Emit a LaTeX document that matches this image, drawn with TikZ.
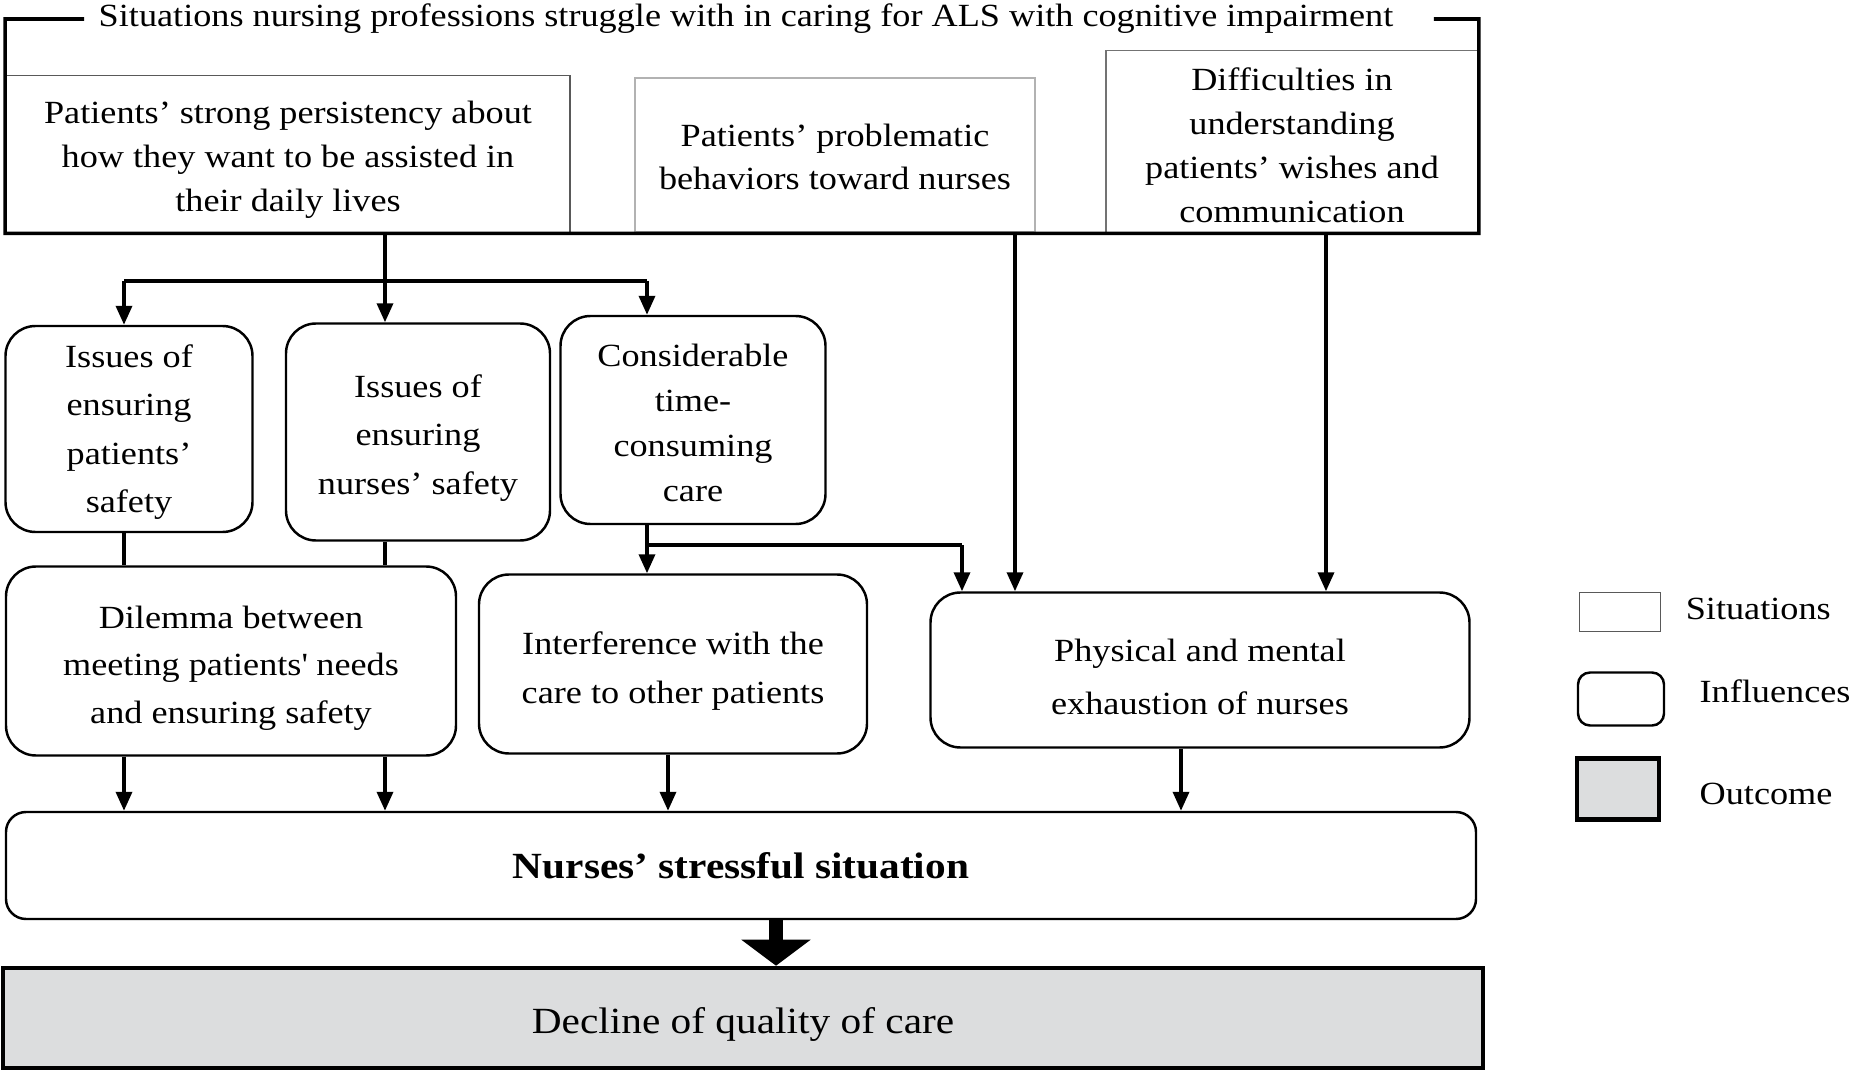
\documentclass[tikz,border=0pt]{standalone}
\usepackage{fontspec}
\setmainfont{Liberation Serif}[FakeStretch=1.12]
\usepackage{tikz}
\usetikzlibrary{positioning,arrows.meta,calc}
\tikzset{>=latex}
\definecolor{mygray}{RGB}{220,221,222}
\newcommand{\lead}[1]{\fontsize{9.2pt}{#1}\selectfont}
\newcommand{\drop}[1]{\rule{0pt}{#1}}
\tikzstyle{situation}=[draw=black!65,line width=0.5pt,align=center,inner sep=0pt]
\tikzstyle{influence}=[draw,line width=0.7pt,rounded corners=3mm,align=center,inner sep=0pt]
\tikzstyle{outcome}=[draw,fill=mygray,line width=1.3pt,align=center,inner sep=0pt]
\tikzstyle{connect}=[line width=1pt,black]
\tikzstyle{connect arrow}=[-{Triangle[length=1.9mm,width=1.6mm]},line width=1pt,black]

\begin{document}
\begin{tikzpicture}[font=\lead{12.5pt}]
\useasboundingbox (0,0) rectangle (18.5,-10.74);

% Situations
\node [inner sep=0pt] (T) at (7.46,-0.19) {Situations nursing professions struggle with in caring for ALS with cognitive impairment};
\node [situation, minimum width=5.64cm, minimum height=1.57cm] (S1) at (2.88,-1.54)
{\drop{9.9pt}Patients’ strong persistency about\\how they want to be assisted in\\their daily lives};
\node [situation, draw=black!30, minimum width=4.0cm, minimum height=1.545cm] (S2) at (8.35,-1.55)
{\drop{7.5pt}Patients’ problematic\\behaviors toward nurses};
\node [situation, draw=black!55, minimum width=3.72cm, minimum height=1.82cm] (S3) at (12.92,-1.416)
{\drop{8.5pt}Difficulties in\\understanding\\patients’ wishes and\\communication};

\draw [connect] ([xshift=-1.4mm]T.west) -- (T.west -| S1.west) -- (S1.south west)
  -- (S3.south east) -- (T.east -| S3.east) -- ([xshift=4mm]T.east);

% Influences
\node [influence, minimum width=2.47cm, minimum height=2.06cm, font=\lead{13.7pt}] (I1) at (1.29,-4.29)
{\drop{8.2pt}Issues of\\ensuring\\patients’\\safety};
\node [influence, minimum width=2.64cm, minimum height=2.17cm, font=\lead{13.7pt}] (I2) at (4.18,-4.32)
{\drop{9.9pt}Issues of\\ensuring\\nurses’ safety};
\node [influence, minimum width=2.65cm, minimum height=2.08cm, font=\lead{12.8pt}] (I3) at (6.93,-4.20)
{\drop{7.9pt}Considerable\\time-\\consuming\\care};
\node [influence, minimum width=4.50cm, minimum height=1.89cm, font=\lead{13.6pt}] (I4) at (2.31,-6.61)
{\drop{10.5pt}Dilemma between\\meeting patients\textquotesingle\ needs\\and ensuring safety};
\node [influence, minimum width=3.88cm, minimum height=1.79cm, font=\lead{13.7pt}] (I5) at (6.73,-6.64)
{\drop{10.5pt}Interference with the\\care to other patients};
\node [influence, minimum width=5.39cm, minimum height=1.55cm, font=\lead{15pt}] (I6) at (12.0,-6.70)
{\drop{10.5pt}Physical and mental\\exhaustion of nurses};

% Outcome
\node [influence, rounded corners=2mm, minimum width=14.70cm, minimum height=1.07cm,
  font=\fontsize{10.5pt}{12pt}\selectfont\bfseries] (N) at (7.41,-8.655) {Nurses’ stressful situation};
\node [outcome, minimum width=14.8cm, minimum height=1.0cm, font=\fontsize{10.5pt}{13pt}\selectfont] (D) at (7.43,-10.18)
{\drop{11pt}Decline of quality of care};

% fork below the first situation
\coordinate (F1) at (1.24,-2.81);
\coordinate (F2) at (3.85,-2.81);
\coordinate (F3) at (6.47,-2.81);
\coordinate (B1) at (6.47,-5.45);
\coordinate (B2) at (9.62,-5.45);

\begin{scope}[connect]
    \draw (F2 |- S1.south) -- (F2);
    \draw (F1) -- (F3);
    \draw (F1 |- I1.south) -- (F1 |- I4.north);
    \draw (F2 |- I2.south) -- (F2 |- I4.north);
    \draw (B1) -- (B2);
\end{scope}

\begin{scope}[connect arrow]
    \draw (F1) -- (F1 |- I1.north);
    \draw (F2) -- (F2 |- I2.north);
    \draw (F3) -- (F3 |- I3.north);
    \draw (F3 |- I3.south) -- (F3 |- I5.north);
    \draw (B2) -- (B2 |- I6.north);
    \draw ([xshift=1.8cm]S2.south) -- ([xshift=1.8cm]S2.south |- I6.north);
    \draw ([xshift=0.34cm]S3.south) -- ([xshift=0.34cm]S3.south |- I6.north);
    \draw (F1 |- I4.south) -- (F1 |- N.north);
    \draw (F2 |- I4.south) -- (F2 |- N.north);
    \draw ([xshift=-0.05cm]I5.south) -- ([xshift=-0.05cm]I5.south |- N.north);
    \draw ([xshift=-0.19cm]I6.south) -- ([xshift=-0.19cm]I6.south |- N.north);
\end{scope}

\draw [-{Triangle[length=2.6mm,width=6.8mm]}, line width=1.4mm] ([xshift=0.35cm]N.south) -- ([xshift=0.35cm]N.south |- D.north);

% Legend
\node [situation, minimum width=0.81cm, minimum height=0.39cm] (LS) at (16.20,-6.12) {};
\node [right=0.12cm of LS, yshift=0.035cm] (LSt) {Situations};
\node [influence, rounded corners=1.2mm, minimum width=0.86cm, minimum height=0.53cm] (LI) at (16.21,-6.99) {};
\node [right=0.22cm of LI, yshift=0.08cm] (LIt) {Influences};
\node [outcome, minimum width=0.82cm, minimum height=0.61cm] (LO) at (16.18,-7.89) {};
\node [right=0.26cm of LO, yshift=-0.05cm] (LOt) {Outcome};

\end{tikzpicture}
\end{document}
